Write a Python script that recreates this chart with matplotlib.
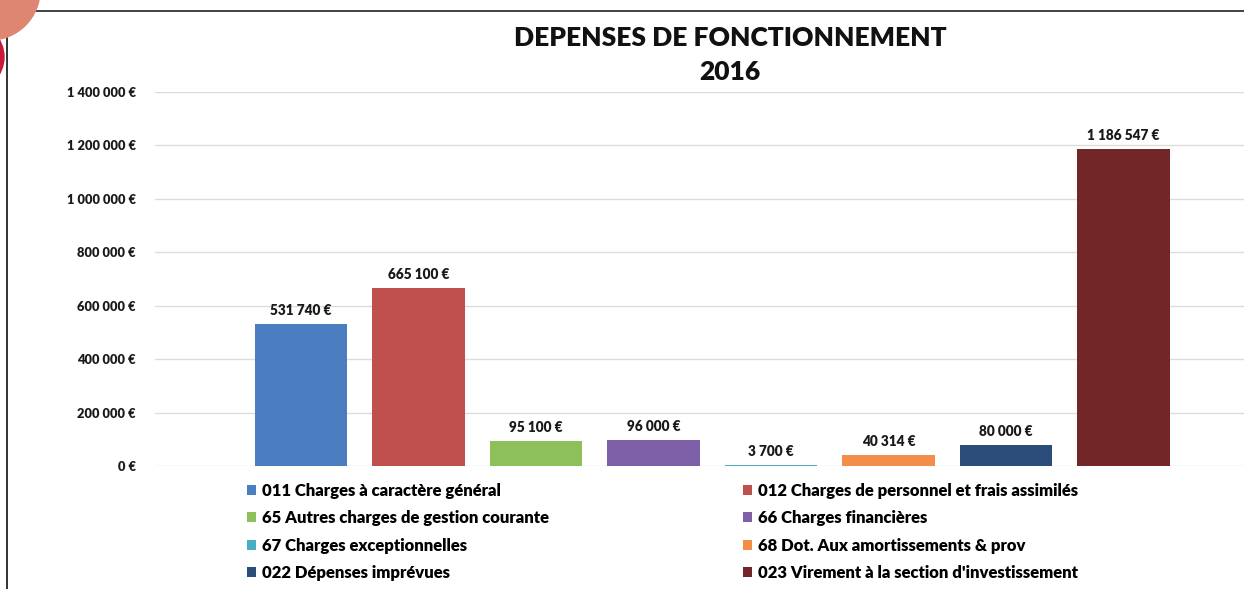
import matplotlib.pyplot as plt
from matplotlib.patches import Circle, Patch
from matplotlib.lines import Line2D

plt.rcParams['font.family'] = ['Lato', 'DejaVu Sans']

categories = ["011 Charges à caractère général",
              "012 Charges de personnel et frais assimilés",
              "65 Autres charges de gestion courante",
              "66 Charges financières",
              "67 Charges exceptionnelles",
              "68 Dot. Aux amortissements & prov",
              "022 Dépenses imprévues",
              "023 Virement à la section d'investissement"]
values = [531740, 665100, 95100, 96000, 3700, 40314, 80000, 1186547]
colors = ['#4A7EC0', '#C0504D', '#8DBF5A', '#7D60A8', '#4BACC6', '#F28E4A', '#2C4D7A', '#722628']
yticks = [0, 200000, 400000, 600000, 800000, 1000000, 1200000, 1400000]


def euro(v):
    return f"{v:,}".replace(",", " ") + " €"


fig = plt.figure(figsize=(12.44, 5.89), dpi=100)
ax = fig.add_axes([155 / 1244, 1 - 466 / 589, 1 - 155 / 1244, (466 - 92) / 589])

x = list(range(len(values)))
bars = ax.bar(x, values, width=0.79, color=colors, zorder=3)
for xi, v in zip(x, values):
    ax.text(xi, v + 26000, euro(v), ha='center', va='bottom',
            fontsize=9.8, fontweight='heavy', color='#1a1a1a')

ax.set_ylim(0, 1400000)
ax.set_xlim(-1.243, 8.025)
ax.set_yticks(yticks)
ax.set_yticklabels([euro(t) for t in yticks], fontsize=9.3, fontweight='heavy', color='#1a1a1a')
ax.tick_params(axis='y', length=0, pad=14)
ax.set_xticks([])
ax.grid(axis='y', color='#DCDCDC', lw=1.0, zorder=0)
for s in ax.spines.values():
    s.set_visible(False)

fig.text(730 / 1244, 1 - 38 / 589, "DEPENSES DE FONCTIONNEMENT", ha='center', va='center',
         fontsize=19, fontweight='heavy', color='#111111')
fig.text(730 / 1244, 1 - 72 / 589, "2016", ha='center', va='center',
         fontsize=19, fontweight='heavy', color='#111111')

# legend: two columns, row-major order as in the reference
for col, x0 in ((0, 247 / 1244), (1, 743 / 1244)):
    idx = list(range(col, len(categories), 2))
    handles = [Patch(facecolor=colors[i], edgecolor='none') for i in idx]
    fig.legend(handles, [categories[i] for i in idx], loc='upper left',
               bbox_to_anchor=(x0, 1 - 483 / 589), frameon=False,
               prop={'weight': 'heavy', 'size': 12}, handlelength=0.55, handleheight=0.55,
               handletextpad=0.35, labelspacing=0.68, borderaxespad=0, borderpad=0)

# page decoration around the chart
fig.add_artist(Line2D([35 / 1244, 1], [1 - 10.5 / 589] * 2, transform=fig.transFigure,
                      color='#333333', lw=1.3))
fig.add_artist(Line2D([7 / 1244] * 2, [1 - 37 / 589, 0], transform=fig.transFigure,
                      color='#222222', lw=1.3))
fig.add_artist(Circle((-0.30, 5.89 - 0.57), 0.34, transform=fig.dpi_scale_trans,
                      color='#C8193A', zorder=5))
fig.add_artist(Circle((-0.10, 5.89 + 0.10), 0.50, transform=fig.dpi_scale_trans,
                      color='#DE8672', zorder=6))

fig.savefig('out.png', dpi=100, facecolor='white')
